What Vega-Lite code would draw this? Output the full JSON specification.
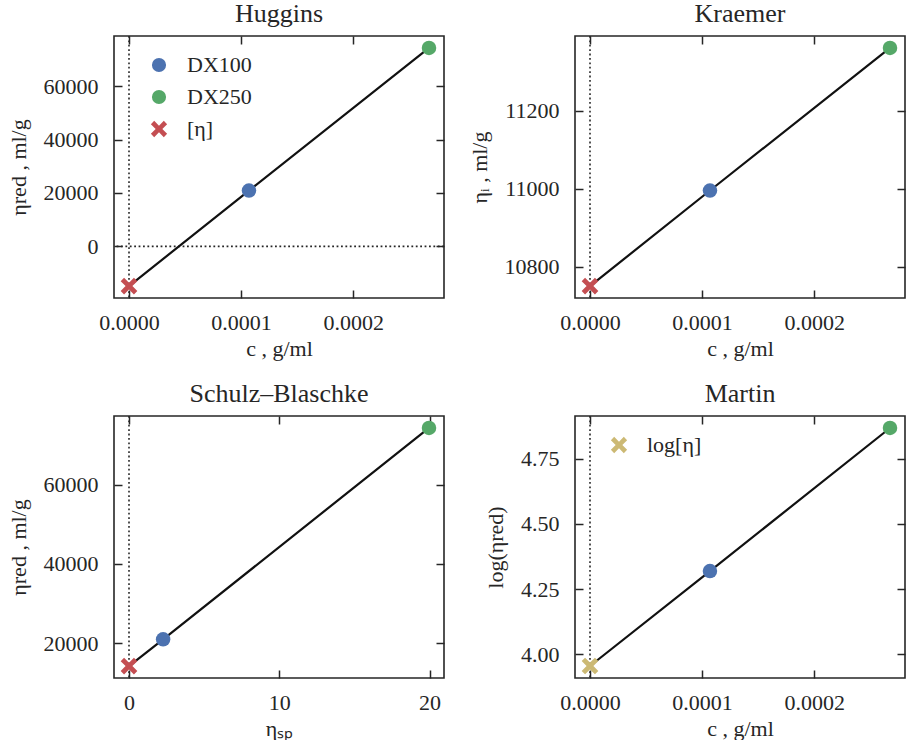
{
 "$schema": "https://vega.github.io/schema/vega-lite/v6.json",
 "padding": {"left": 6, "top": 0, "right": 4, "bottom": 0},
 "background": "white",
 "columns": 2,
 "spacing": {"row": 118, "column": 131},
 "bounds": "flush",
 "resolve": {"scale": {"color": "independent", "shape": "independent"}, "legend": {"color": "independent", "shape": "independent"}},
 "datasets": {
  "hug": [{"x": 0, "y": -14890, "s": "[η]"}, {"x": 0.000107, "y": 20890, "s": "DX100"}, {"x": 0.0002676, "y": 74360, "s": "DX250"}],
  "kra": [{"x": 0, "y": 10751, "s": "[η]"}, {"x": 0.000107, "y": 10996, "s": "DX100"}, {"x": 0.0002676, "y": 11361.5, "s": "DX250"}],
  "sb": [{"x": 0, "y": 14177, "s": "[η]"}, {"x": 2.27, "y": 20940, "s": "DX100"}, {"x": 19.96, "y": 74360, "s": "DX250"}],
  "mar": [{"x": 0, "y": 3.955, "s": "log[η]"}, {"x": 0.000107, "y": 4.319, "s": "DX100"}, {"x": 0.0002676, "y": 4.868, "s": "DX250"}],
  "zero": [{"v": 0}]
 },
 "config": {
  "font": "Liberation Serif",
  "view": {"stroke": "#262626", "strokeWidth": 1.6},
  "axis": {"labelFont": "Liberation Serif", "titleFont": "Liberation Serif", "labelFontSize": 22, "titleFontSize": 22, "titleFontWeight": "normal", "labelFontWeight": "normal", "labelColor": "#262626", "titleColor": "#262626", "tickColor": "#262626", "tickWidth": 1.5, "tickSize": -8, "domain": false, "grid": false, "labelPadding": 24, "titlePadding": 10, "labelFlush": false, "labelOverlap": false},
  "axisX": {"labelPadding": 22, "titlePadding": 5},
  "axisY": {"labelPadding": 24, "titlePadding": 13},
  "legend": {"labelFont": "Liberation Serif", "labelFontSize": 22, "labelColor": "#262626", "symbolSize": 200, "rowPadding": 10, "labelOffset": 17, "padding": 0, "symbolStrokeWidth": 0},
  "title": {"font": "Liberation Serif", "fontSize": 26, "fontWeight": "normal", "color": "#262626", "anchor": "middle", "frame": "group", "offset": 8, "baseline": "alphabetic"}
 },
 "concat": [
  {
   "width": 330, "height": 262,
   "title": {"text": "Huggins", "font": "Liberation Serif", "fontWeight": "normal", "fontSize": 26},
   "data": {"name": "hug"},
   "layer": [
    {"data": {"name": "zero"}, "mark": {"type": "rule", "strokeDash": [1.8, 2.6], "strokeWidth": 1.6, "color": "#262626"},
     "encoding": {"x": {"field": "v", "type": "quantitative", "scale": {"domain": [-0.00001338, 0.00028098], "nice": false, "zero": false}, "axis": {"orient": "top", "labels": false, "title": null, "values": [0, 0.0001, 0.0002]}}}},
    {"data": {"name": "zero"}, "mark": {"type": "rule", "strokeDash": [1.8, 2.6], "strokeWidth": 1.6, "color": "#262626"},
     "encoding": {"y": {"field": "v", "type": "quantitative", "scale": {"domain": [-19352, 78822], "nice": false, "zero": false}, "axis": null}}},
    {"mark": {"type": "line", "color": "#111111", "strokeWidth": 2.2},
     "encoding": {
      "x": {"field": "x", "type": "quantitative", "scale": {"domain": [-0.00001338, 0.00028098], "nice": false, "zero": false}, "axis": {"orient": "bottom", "values": [0, 0.0001, 0.0002], "format": ".4f", "title": "c ,  g/ml"}},
      "y": {"field": "y", "type": "quantitative", "scale": {"domain": [-19352, 78822], "nice": false, "zero": false}, "axis": {"orient": "left", "values": [0, 20000, 40000, 60000], "format": "d", "title": "ηred ,  ml/g"}}}},
    {"mark": {"type": "point", "filled": true, "size": 210, "opacity": 1, "strokeWidth": 0},
     "encoding": {
      "x": {"field": "x", "type": "quantitative", "scale": {"domain": [-0.00001338, 0.00028098], "nice": false, "zero": false}, "axis": null},
      "y": {"field": "y", "type": "quantitative", "scale": {"domain": [-19352, 78822], "nice": false, "zero": false}, "axis": {"orient": "right", "labels": false, "title": null, "values": [0, 20000, 40000, 60000]}},
      "color": {"field": "s", "type": "nominal", "scale": {"domain": ["DX100", "DX250", "[η]"], "range": ["#4C72B0", "#55A868", "#C44E52"]}, "legend": {"title": null, "orient": "none", "legendX": 34, "legendY": 18}},
      "shape": {"field": "s", "type": "nominal", "scale": {"domain": ["DX100", "DX250", "[η]"], "range": ["circle", "circle", "M-1.15,-0.68L-0.68,-1.15L0,-0.47L0.68,-1.15L1.15,-0.68L0.47,0L1.15,0.68L0.68,1.15L0,0.47L-0.68,1.15L-1.15,0.68L-0.47,0Z"]}}}}
   ],
   "resolve": {"axis": {"x": "independent", "y": "independent"}}
  },
  {
   "width": 330, "height": 262,
   "title": {"text": "Kraemer", "font": "Liberation Serif", "fontWeight": "normal", "fontSize": 26},
   "data": {"name": "kra"},
   "layer": [
    {"data": {"name": "zero"}, "mark": {"type": "rule", "strokeDash": [1.8, 2.6], "strokeWidth": 1.6, "color": "#262626"},
     "encoding": {"x": {"field": "v", "type": "quantitative", "scale": {"domain": [-0.00001338, 0.00028098], "nice": false, "zero": false}, "axis": {"orient": "top", "labels": false, "title": null, "values": [0, 0.0001, 0.0002]}}}},
    {"mark": {"type": "line", "color": "#111111", "strokeWidth": 2.2},
     "encoding": {
      "x": {"field": "x", "type": "quantitative", "scale": {"domain": [-0.00001338, 0.00028098], "nice": false, "zero": false}, "axis": {"orient": "bottom", "values": [0, 0.0001, 0.0002], "format": ".4f", "title": "c ,  g/ml"}},
      "y": {"field": "y", "type": "quantitative", "scale": {"domain": [10720.5, 11392], "nice": false, "zero": false}, "axis": {"orient": "left", "values": [10800, 11000, 11200], "format": "d", "title": "ηᵢ ,  ml/g"}}}},
    {"mark": {"type": "point", "filled": true, "size": 210, "opacity": 1, "strokeWidth": 0},
     "encoding": {
      "x": {"field": "x", "type": "quantitative", "scale": {"domain": [-0.00001338, 0.00028098], "nice": false, "zero": false}, "axis": null},
      "y": {"field": "y", "type": "quantitative", "scale": {"domain": [10720.5, 11392], "nice": false, "zero": false}, "axis": {"orient": "right", "labels": false, "title": null, "values": [10800, 11000, 11200]}},
      "color": {"field": "s", "type": "nominal", "scale": {"domain": ["DX100", "DX250", "[η]"], "range": ["#4C72B0", "#55A868", "#C44E52"]}, "legend": null},
      "shape": {"field": "s", "type": "nominal", "scale": {"domain": ["DX100", "DX250", "[η]"], "range": ["circle", "circle", "M-1.15,-0.68L-0.68,-1.15L0,-0.47L0.68,-1.15L1.15,-0.68L0.47,0L1.15,0.68L0.68,1.15L0,0.47L-0.68,1.15L-1.15,0.68L-0.47,0Z"]}, "legend": null}}}
   ],
   "resolve": {"axis": {"x": "independent", "y": "independent"}}
  },
  {
   "width": 330, "height": 262,
   "title": {"text": "Schulz–Blaschke", "font": "Liberation Serif", "fontWeight": "normal", "fontSize": 26},
   "data": {"name": "sb"},
   "layer": [
    {"data": {"name": "zero"}, "mark": {"type": "rule", "strokeDash": [1.8, 2.6], "strokeWidth": 1.6, "color": "#262626"},
     "encoding": {"x": {"field": "v", "type": "quantitative", "scale": {"domain": [-0.998, 20.958], "nice": false, "zero": false}, "axis": {"orient": "top", "labels": false, "title": null, "values": [0, 10, 20]}}}},
    {"mark": {"type": "line", "color": "#111111", "strokeWidth": 2.2},
     "encoding": {
      "x": {"field": "x", "type": "quantitative", "scale": {"domain": [-0.998, 20.958], "nice": false, "zero": false}, "axis": {"orient": "bottom", "values": [0, 10, 20], "format": "d", "title": "ηₛₚ"}},
      "y": {"field": "y", "type": "quantitative", "scale": {"domain": [11168, 77369], "nice": false, "zero": false}, "axis": {"orient": "left", "values": [20000, 40000, 60000], "format": "d", "title": "ηred ,  ml/g"}}}},
    {"mark": {"type": "point", "filled": true, "size": 210, "opacity": 1, "strokeWidth": 0},
     "encoding": {
      "x": {"field": "x", "type": "quantitative", "scale": {"domain": [-0.998, 20.958], "nice": false, "zero": false}, "axis": null},
      "y": {"field": "y", "type": "quantitative", "scale": {"domain": [11168, 77369], "nice": false, "zero": false}, "axis": {"orient": "right", "labels": false, "title": null, "values": [20000, 40000, 60000]}},
      "color": {"field": "s", "type": "nominal", "scale": {"domain": ["DX100", "DX250", "[η]"], "range": ["#4C72B0", "#55A868", "#C44E52"]}, "legend": null},
      "shape": {"field": "s", "type": "nominal", "scale": {"domain": ["DX100", "DX250", "[η]"], "range": ["circle", "circle", "M-1.15,-0.68L-0.68,-1.15L0,-0.47L0.68,-1.15L1.15,-0.68L0.47,0L1.15,0.68L0.68,1.15L0,0.47L-0.68,1.15L-1.15,0.68L-0.47,0Z"]}, "legend": null}}}
   ],
   "resolve": {"axis": {"x": "independent", "y": "independent"}}
  },
  {
   "width": 330, "height": 262,
   "title": {"text": "Martin", "font": "Liberation Serif", "fontWeight": "normal", "fontSize": 26},
   "data": {"name": "mar"},
   "layer": [
    {"data": {"name": "zero"}, "mark": {"type": "rule", "strokeDash": [1.8, 2.6], "strokeWidth": 1.6, "color": "#262626"},
     "encoding": {"x": {"field": "v", "type": "quantitative", "scale": {"domain": [-0.00001338, 0.00028098], "nice": false, "zero": false}, "axis": {"orient": "top", "labels": false, "title": null, "values": [0, 0.0001, 0.0002]}}}},
    {"mark": {"type": "line", "color": "#111111", "strokeWidth": 2.2},
     "encoding": {
      "x": {"field": "x", "type": "quantitative", "scale": {"domain": [-0.00001338, 0.00028098], "nice": false, "zero": false}, "axis": {"orient": "bottom", "values": [0, 0.0001, 0.0002], "format": ".4f", "title": "c ,  g/ml"}},
      "y": {"field": "y", "type": "quantitative", "scale": {"domain": [3.909, 4.914], "nice": false, "zero": false}, "axis": {"orient": "left", "values": [4.0, 4.25, 4.5, 4.75], "format": ".2f", "title": "log(ηred)"}}}},
    {"mark": {"type": "point", "filled": true, "size": 210, "opacity": 1, "strokeWidth": 0},
     "encoding": {
      "x": {"field": "x", "type": "quantitative", "scale": {"domain": [-0.00001338, 0.00028098], "nice": false, "zero": false}, "axis": null},
      "y": {"field": "y", "type": "quantitative", "scale": {"domain": [3.909, 4.914], "nice": false, "zero": false}, "axis": {"orient": "right", "labels": false, "title": null, "values": [4.0, 4.25, 4.5, 4.75]}},
      "color": {"field": "s", "type": "nominal", "scale": {"domain": ["DX100", "DX250", "log[η]"], "range": ["#4C72B0", "#55A868", "#CCB974"]}, "legend": {"title": null, "orient": "none", "legendX": 33, "legendY": 18, "values": ["log[η]"]}},
      "shape": {"field": "s", "type": "nominal", "scale": {"domain": ["DX100", "DX250", "log[η]"], "range": ["circle", "circle", "M-1.15,-0.68L-0.68,-1.15L0,-0.47L0.68,-1.15L1.15,-0.68L0.47,0L1.15,0.68L0.68,1.15L0,0.47L-0.68,1.15L-1.15,0.68L-0.47,0Z"]}}}}
   ],
   "resolve": {"axis": {"x": "independent", "y": "independent"}}
  }
 ]
}
